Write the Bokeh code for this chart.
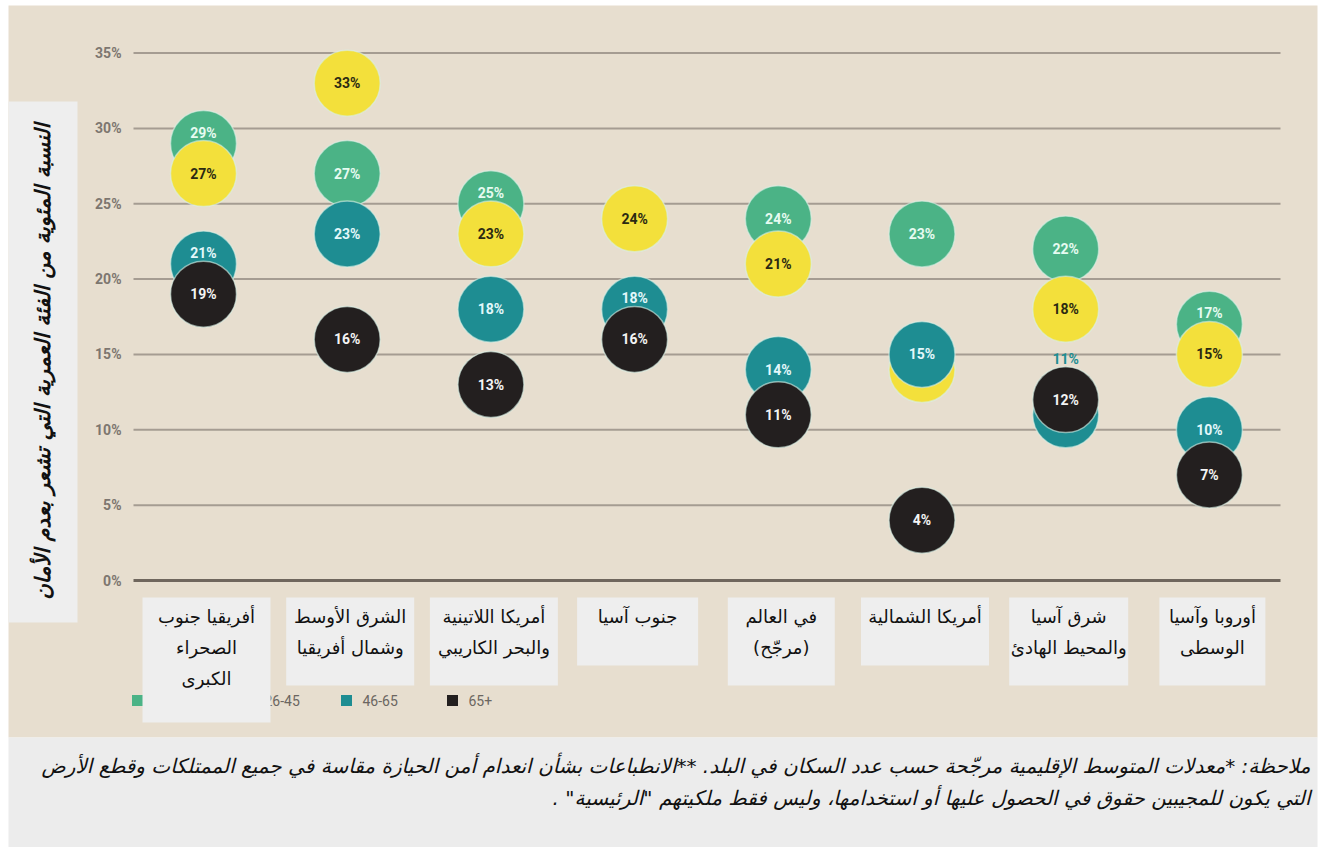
import math
from bokeh.plotting import figure
from bokeh.models import Range1d, ColumnDataSource
from bokeh.core.properties import value
from bokeh.embed import file_html
from bokeh.resources import INLINE

RLM = "\u200f"

# ---------------- data ----------------
region_lines = [
    ["أفريقيا جنوب", "الصحراء", "الكبرى"],
    ["الشرق الأوسط", "وشمال أفريقيا"],
    ["أمريكا اللاتينية", "والبحر الكاريبي"],
    ["جنوب آسيا"],
    ["في العالم", RLM + "(مرجّح)" + RLM],
    ["أمريكا الشمالية"],
    ["شرق آسيا", "والمحيط الهادئ"],
    ["أوروبا وآسيا", "الوسطى"],
]
age_groups = ["18-25", "26-45", "46-65", "65+"]
v_18_25 = [29, 27, 25, None, 24, 23, 22, 17]
v_26_45 = [27, 33, 23, 24, 21, 14, 18, 15]
v_46_65 = [21, 23, 18, 18, 14, 15, 11, 10]
v_65_plus = [19, 16, 13, 16, 11, 4, 12, 7]
y_ticks = [0, 5, 10, 15, 20, 25, 30, 35]
y_tick_labels = ["0%", "5%", "10%", "15%", "20%", "25%", "30%", "35%"]
y_title = "النسبة المئوية من الفئة العمرية التي تشعر بعدم الأمان"
note_lines = [
    "ملاحظة: *معدلات المتوسط الإقليمية مرجّحة حسب عدد السكان في البلد. **الانطباعات بشأن انعدام أمن الحيازة مقاسة في جميع الممتلكات وقطع الأرض",
    RLM + "التي يكون للمجيبين حقوق في الحصول عليها أو استخدامها، وليس فقط ملكيتهم \"الرئيسية\" ." + RLM,
]

# ---------------- style ----------------
series_colors = ["#4bb386", "#f3e03b", "#1e8d92", "#231f1f"]
label_colors = ["#e6fbf1", "#2b2a12", "#e3f8fb", "#f4f4f4"]
BEIGE = "#e7decf"
NOTE_BG = "#ececec"
BOX_BG = "#eeeeee"
GRID = "#a59c92"
ZERO = "#6f665d"
TICK_TXT = "#7d766f"
ARABIC = value("DejaVu Sans")
NUM = value("Roboto")

W, H = 1324, 847
X0, DX = 203.0, 143.7     # pixel of first category, pixels per category
Y0, DY = 580.0, 15.07     # pixel of 0 %, pixels per percent
R_PX = 33                 # bubble radius in pixels


def px(x):
    if isinstance(x, (list, tuple)):
        return [px(v) for v in x]
    return (x - X0) / DX


def py(y):
    if isinstance(y, (list, tuple)):
        return [py(v) for v in y]
    return (Y0 - y) / DY


p = figure(width=W, height=H,
           x_range=Range1d(px(0), px(W)), y_range=Range1d(py(H), py(0)),
           output_backend="svg", toolbar_location=None, min_border=0,
           x_axis_location=None, y_axis_location=None,
           background_fill_color="white", border_fill_color="white",
           outline_line_color=None)
p.xgrid.visible = False
p.ygrid.visible = False

# panels
p.quad(left=px(8), right=px(1317), top=py(5), bottom=py(737), fill_color=BEIGE, line_color=None)
p.quad(left=px(8), right=px(1317), top=py(737), bottom=py(847), fill_color=NOTE_BG, line_color=None)

# grid lines
gx0, gx1 = px(133), px(1280)
pos_ticks = [t for t in y_ticks if t > 0]
p.segment(x0=[gx0] * len(pos_ticks), x1=[gx1] * len(pos_ticks), y0=pos_ticks, y1=pos_ticks,
          line_color=GRID, line_width=2)
p.segment(x0=[gx0], x1=[gx1], y0=[0], y1=[0], line_color=ZERO, line_width=3)

# tick labels
p.text(x=[px(121)] * len(y_ticks), y=y_ticks, text=y_tick_labels,
       text_align="right", text_baseline="middle", text_font=NUM,
       text_font_style="bold", text_font_size="14px", text_color=TICK_TXT)

# y title box
p.quad(left=px(8), right=px(77), top=py(101), bottom=py(622), fill_color=BOX_BG, line_color=None)
p.text(x=[px(42)], y=[py(361)], text=[y_title], angle=math.pi / 2,
       text_align="center", text_baseline="middle", text_font=ARABIC,
       text_font_style="bold italic", text_font_size="21px", text_color="#111111")

# bubbles (labels of partly covered bubbles are lifted above the covering bubble)
all_series = [v_18_25, v_26_45, v_46_65, v_65_plus]
last = len(all_series) - 1
for s, (vals, col, tcol) in enumerate(zip(all_series, series_colors, label_colors)):
    xs, ys, labs, lys, lcols = [], [], [], [], []
    for i, v in enumerate(vals):
        if v is None:
            continue
        xs.append(i)
        ys.append(v)
        labs.append(f"{v}%")
        own_px = Y0 - v * DY
        ly_px = own_px
        for j in range(s + 1, len(all_series)):
            w = all_series[j][i]
            if w is None:
                continue
            wy_px = Y0 - w * DY
            if abs(wy_px - own_px) < 2 * R_PX and (w <= v or j == last):
                ly_px = min(ly_px, wy_px - R_PX - 8)
        lys.append(py(ly_px))
        inside = abs(ly_px - own_px) < R_PX - 6
        lcols.append(tcol if inside else col)
    src = ColumnDataSource(dict(x=xs, y=ys, lab=labs, ly=lys, lc=lcols))
    p.scatter(x="x", y="y", source=src, size=2 * R_PX, fill_color=col,
              line_color="#d9f0e6", line_alpha=0.6, line_width=1.5)
    p.text(x="x", y="ly", text="lab", source=src, text_align="center",
           text_baseline="middle", text_font=NUM, text_font_style="bold",
           text_font_size="14px", text_color="lc")

# legend (partly hidden by label boxes, as in the original)
leg_sq_x = [137, 247, 346, 452]
leg_tx_x = [154, 264, 362, 468]
p.scatter(x=px(leg_sq_x), y=[py(700)] * 4, marker="square", size=11,
          fill_color=series_colors, line_color=None)
p.text(x=px(leg_tx_x), y=[py(700)] * 4, text=age_groups, text_align="left",
       text_baseline="middle", text_font=NUM, text_font_size="14px",
       text_color="#6b6661")

# category label boxes
box_w = [128, 128, 128, 121, 107, 128, 119, 106]
box_h = {1: 68, 2: 88, 3: 125}
box_top = 597
lefts, rights, tops, bottoms = [], [], [], []
tx, ty, tt = [], [], []
for i, lines in enumerate(region_lines):
    cx = X0 + i * DX + 3
    lefts.append(px(cx - box_w[i] / 2))
    rights.append(px(cx + box_w[i] / 2))
    tops.append(py(box_top))
    bottoms.append(py(box_top + box_h[len(lines)]))
    for k, line in enumerate(lines):
        tx.append(px(cx))
        ty.append(py(box_top + 19 + 31 * k))
        tt.append(line)
p.quad(left=lefts, right=rights, top=tops, bottom=bottoms, fill_color=BOX_BG, line_color=None)
p.text(x=tx, y=ty, text=tt, text_align="center", text_baseline="middle",
       text_font=ARABIC, text_font_size="18px", text_color="#111111")

# note
p.text(x=[px(1310)] * 2, y=[py(765), py(797)], text=note_lines, text_align="right",
       text_baseline="middle", text_font=ARABIC, text_font_style="italic",
       text_font_size="20px", text_color="#111111")

open("out.html", "w").write(file_html(p, INLINE))
